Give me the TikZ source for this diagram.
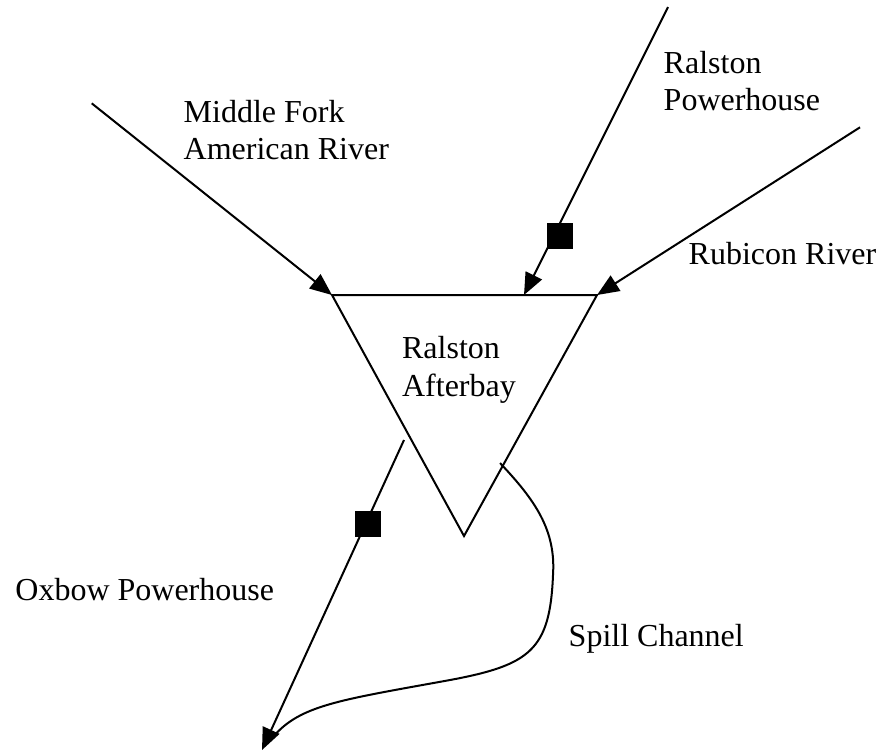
\documentclass[tikz,border=0pt]{standalone}
\usepackage{fontspec}
\setmainfont{Liberation Serif}
\usetikzlibrary{arrows.meta}
\begin{document}
\begin{tikzpicture}[x=0.5pt,y=-0.5pt,
  flow/.style={line width=1pt,-{Triangle[length=11pt,width=9pt]}},
  edge/.style={line width=1pt},
  gate/.style={fill=black,draw=none,minimum size=13pt,inner sep=0pt},
  lbl/.style={font=\fontsize{16}{18.75}\selectfont,align=left,inner sep=0pt,anchor=base west}]
\useasboundingbox (0,0) rectangle (881,752);
% triangle (Ralston Afterbay)
\coordinate (TL) at (332,295);
\coordinate (TR) at (597,295);
\coordinate (AP) at (464,536);
\coordinate (RPtip) at (524,295);
\draw[edge] (TL) -- (TR) -- (AP) -- cycle;
% inflows
\coordinate (MF) at (91.7,103.3);
\coordinate (RP) at (668,7);
\coordinate (RR) at (860,127.3);
\draw[flow] (MF) -- (TL);
\draw[flow] (RR) -- (TR);
\draw[flow] (RP) -- (RPtip);
\node[gate] (sqA) at (560,235.6) {};
% outflows
\coordinate (OXs) at (404,440);
\coordinate (OXe) at (262,750);
\draw[flow] (OXs) -- (OXe);
\node[gate] (sqB) at (368,523.7) {};
\coordinate (SPs) at (500,463);
\coordinate (SPe) at (273,737);
\draw[edge] (SPs) .. controls (535,500) and (556,530) .. (553,575)
  .. controls (550,650) and (530,665) .. (450,680)
  .. controls (340,700) and (300,705) .. (SPe);
% labels (anchor = baseline of last line)
\node[lbl] (tMF) at (183.3,159.5) {Middle Fork\\American River};
\node[lbl] (tRP) at (663.3,110.7) {Ralston\\Powerhouse};
\node[lbl] (tRR) at (688.3,264) {Rubicon River};
\node[lbl] (tRA) at (401.7,396) {Ralston\\Afterbay};
\node[lbl] (tOX) at (15,600) {Oxbow Powerhouse};
\node[lbl] (tSC) at (568.3,646.7) {Spill Channel};
\end{tikzpicture}
\end{document}
